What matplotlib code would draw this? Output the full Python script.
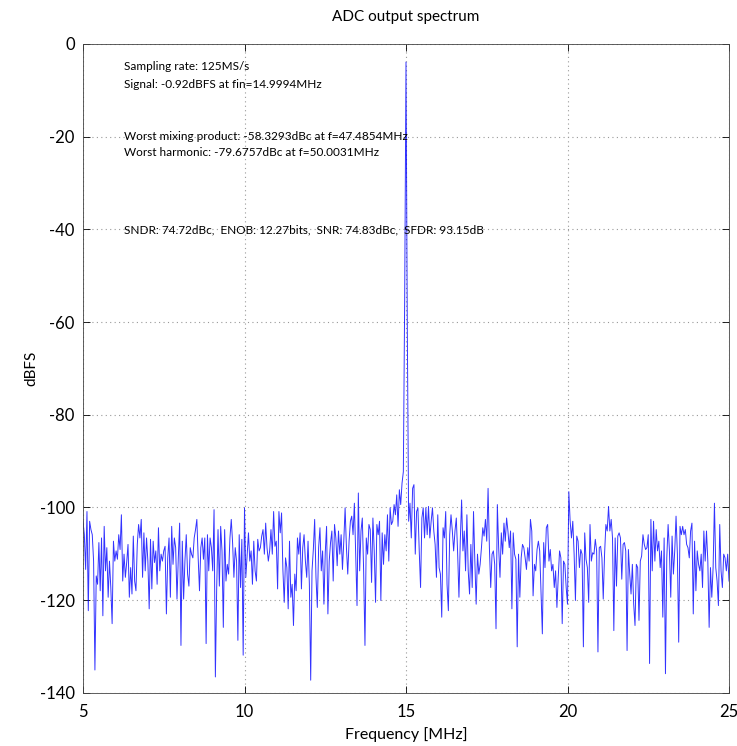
import numpy as np
import matplotlib
matplotlib.use("Agg")
import matplotlib.pyplot as plt

plt.rcParams['font.family'] = ['Lato', 'DejaVu Sans']
plt.rcParams['axes.unicode_minus'] = False

# --- data (dBFS), left to right ---
seg_5_9 = [-103, -105.9, -113.4, -100.9, -122.3, -103, -104.8, -105.9, -111.6, -135.1,
           -114.8, -116.6, -107.6, -118, -106.6, -123.4, -104.1, -113.7, -108.7, -119.4,
           -111.6, -117.3, -125.1, -107.3, -111.6, -109.4, -111.2, -105.9, -109.1, -101.6,
           -115.9, -110.1, -115.1, -111.9, -108, -119.4, -113, -118.7, -106.2, -115.9,
           -118, -108, -103.7, -106.6, -102.6, -115.1, -105.5, -113.7, -106.6, -111.6,
           -121.9, -106.9, -117.6, -107.3, -111.9, -109.4, -116.6, -104.4, -113.7, -110.1,
           -111.6, -109.4, -108.4, -123, -110.9, -106.6, -119.4, -104.1, -112.3, -106.6,
           -108.7, -119.8, -110.9, -103.4, -129.8, -107.3, -119.8, -111.6, -105.9, -114.4,
           -117, -108.7, -110.1, -110.9, -106.6, -104.8, -102.6, -110.9, -118, -108.7,
           -106.6, -111.2, -106.6, -129.4, -105.9, -113.7, -106.6]
seg_9_13 = [-108.7, -113.7, -100.5, -136.6, -117.3, -104.8, -117, -104.1, -109.4, -125.9,
            -104.8, -115.9, -112.3, -114.4, -106.6, -102.6, -107.6, -115.1, -108.7, -111.6,
            -128.7, -105.9, -117.3, -106.9, -131.9, -100.1, -115.1, -110.1, -105.5, -111.6,
            -109.4, -116.6, -107.3, -113.7, -115.9, -106.9, -109.4, -108.7, -106.2, -104.8,
            -110.1, -103.4, -108.7, -111.6, -109.4, -104.8, -110.1, -100.9, -108.4, -107.3,
            -117.6, -100.9, -105.5, -101.2, -113.4, -120.5, -110.9, -113, -121.9, -107.3,
            -119.4, -116.6, -125.5, -114.4, -118, -106.6, -110.1, -105.5, -117.6, -108.7,
            -105.9, -111.6, -115.1, -107.3, -116.6, -137.3, -113.7, -109.1, -102.6, -115.1,
            -121.6, -108.7, -104.4, -113.7, -109.4, -120.9, -109.8, -104.1, -123, -111.6,
            -107.6, -105.1, -115.9, -103.7, -106.6, -112.6, -105.1, -110.1]
seg_13_15 = [-105.9, -113.4, -107.3, -100.1, -108.7, -114.4, -107.3, -103, -101.9, -105.9,
             -99.1, -110.1, -121.2, -96.9, -113.7, -105.1, -102.3, -113.7, -129.8, -106.6,
             -110.1, -103.7, -104.8, -116.2, -102.3, -109.4, -120.5, -103.7, -105.9, -103,
             -120.1, -105.5, -112.3, -105.9, -109.4, -101.6, -111.6, -100.1, -103.7, -103,
             -99.4, -101.6, -97.3, -104.1, -96.2, -99.4, -94.8, -92.3]
seg_peak = [-55.0, -3.9, -62.0]
seg_15_17 = [-103, -99.1, -106.6, -95.9, -95.1, -110.1, -100.9, -100.1, -109.4, -117.3,
             -102.3, -100.1, -106.6, -100.1, -105.9, -99.8, -106.6, -103, -100.1, -105.1,
             -108, -115.1, -101.6, -113, -114.4, -123.7, -104.4, -106.6, -100.9, -116.6,
             -122.3, -105.9, -101.6, -105.1, -109.4, -105.1, -102.3, -109.8, -119.4, -107.3,
             -98.4, -109.4, -105.1, -113.7, -101.6, -113.7, -118.7]
seg_17_21 = [-108, -117.3, -100.9, -111.6, -120.9, -110.1, -114.4, -112.3, -108.7, -104.4,
             -106.2, -102.6, -107.3, -95.9, -108.7, -117.3, -110.1, -109.4, -112.3, -126.2,
             -99.4, -108.7, -115.1, -105.5, -110.1, -103.4, -107.3, -102.3, -105.1, -108.7,
             -105.1, -121.9, -105.5, -110.1, -111.2, -130.1, -110.1, -119.4, -110.9, -108,
             -108.7, -110.9, -113.4, -108.7, -111.6, -102.6, -105.1, -119.1, -112.3, -113.7,
             -109.1, -107.3, -109.4, -118.4, -127.3, -107.6, -113, -104.4, -103.7, -111.6,
             -109.1, -113.7, -112.3, -117.3, -113.7, -121.6, -115.1, -109.4, -110.9, -125.1,
             -111.6, -112.3, -117.3, -120.9, -96.6, -103, -106.6, -103, -110.1, -120.1,
             -106.2, -107.3, -113, -109.1, -110.1, -130.1, -105.5, -111.2, -113, -120.5,
             -103.7, -111.6, -109.8, -110.1, -106.9, -109.4, -131.2, -108.7]
seg_21_25 = [-108.4, -110.9, -119.8, -110.1, -103.7, -105.1, -99.8, -105.1, -102.6, -106.6,
             -126.6, -106.6, -117, -106.2, -105.5, -106.6, -115.5, -108, -107.6, -109.4,
             -130.9, -109.1, -114.4, -118.7, -112.3, -120.9, -125.5, -112.3, -113, -124.4,
             -111.6, -110.5, -105.9, -108, -109.1, -108.7, -105.9, -133.7, -102.6, -113.7,
             -103, -111.6, -104.8, -109.4, -107.3, -113, -109.4, -123.7, -106.6, -135.9,
             -110.9, -103.7, -109.4, -119.4, -106.2, -114.4, -109.4, -101.9, -110.1, -129.1,
             -104.1, -105.9, -104.1, -105.9, -104.8, -108, -108.7, -110.9, -105.1, -103.4,
             -123, -107.3, -118, -109.4, -112.3, -113.7, -110.1, -117.3, -105.1, -111.6,
             -105.1, -111.6, -125.9, -113, -119.4, -113, -99.1, -113, -115.9, -121.2,
             -103.7, -113.7, -117.3, -110.1, -110.9, -113.7, -110.1, -115.9]

f_start, f_stop = 5.0, 25.0
x_ticks = [5, 10, 15, 20, 25]
y_ticks = [0, -20, -40, -60, -80, -100, -120, -140]

title = "ADC output spectrum"
x_label = "Frequency [MHz]"
y_label = "dBFS"
info_lines = [
    ("Sampling rate: 125MS/s", 67),
    ("Signal: -0.92dBFS at fin=14.9994MHz", 84),
    ("Worst mixing product: -58.3293dBc at f=47.4854MHz", 136),
    ("Worst harmonic: -79.6757dBc at f=50.0031MHz", 153),
    ("SNDR: 74.72dBc,  ENOB: 12.27bits,  SNR: 74.83dBc,  SFDR: 93.15dB", 230),
]

spectrum = np.array(seg_5_9 + seg_9_13 + seg_13_15 + seg_peak + seg_15_17 + seg_17_21 + seg_21_25)
freq = np.linspace(f_start, f_stop, len(spectrum))

W, H = 737, 746
fig = plt.figure(figsize=(W / 100, H / 100), dpi=100)
ax_l, ax_r, ax_t, ax_b = 83, 729, 44, 692.7
ax = fig.add_axes([ax_l / W, 1 - ax_b / H, (ax_r - ax_l) / W, (ax_b - ax_t) / H])

ax.plot(freq, spectrum, color='#0000ff', lw=0.7, alpha=0.8)

ax.set_xlim(f_start, f_stop)
ax.set_ylim(-140, 0)
ax.set_xticks(x_ticks)
ax.set_yticks(y_ticks)
ax.grid(True, color='#999999', linestyle=(0, (1, 3)), linewidth=0.8)
ax.tick_params(direction='in', top=True, right=True, length=5, width=0.6,
               labelsize=12, colors='black')
ax.tick_params(axis='x', pad=8)
ax.tick_params(axis='y', pad=6)
for s in ax.spines.values():
    s.set_linewidth(0.6)
    s.set_color('#444444')

cx = (ax_l + ax_r) / 2 / W
fig.text(cx, 1 - 17 / H, title, ha='center', va='center', fontsize=11)
fig.text(cx, 1 - 735 / H, x_label, ha='center', va='center', fontsize=11.5)
fig.text(31 / W, 1 - 368 / H, y_label, ha='center', va='center', rotation=90, fontsize=11)

for txt, ypx in info_lines:
    ax.text((124 - ax_l) / (ax_r - ax_l), 1 - (ypx - ax_t) / (ax_b - ax_t), txt,
            transform=ax.transAxes, ha='left', va='center', fontsize=8.5)

fig.savefig("out.png", dpi=100)
